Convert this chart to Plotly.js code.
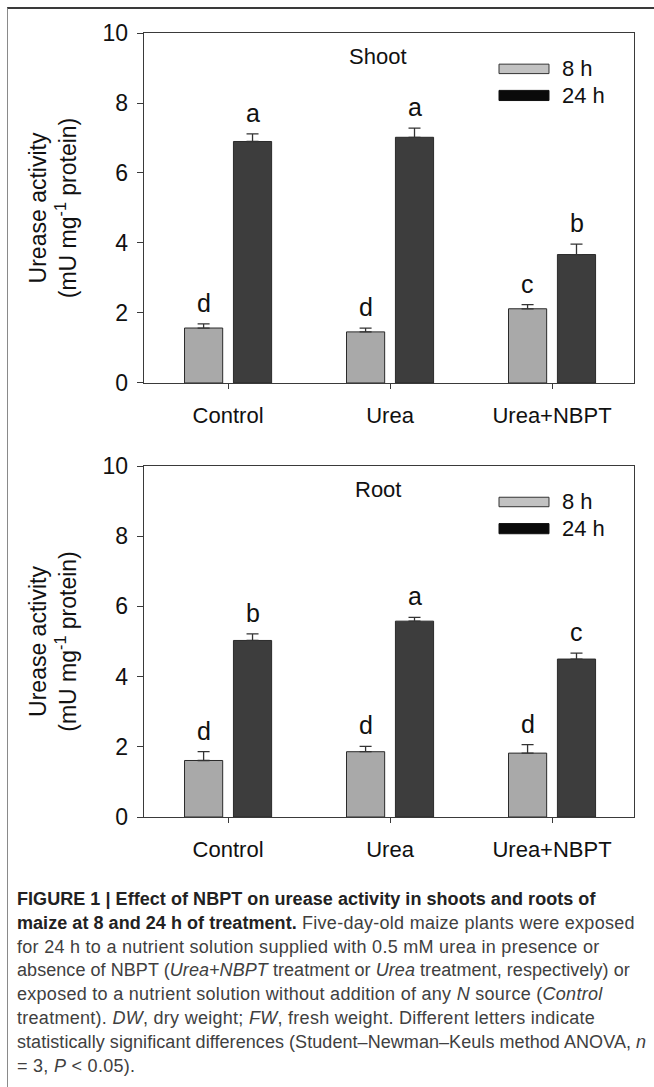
<!DOCTYPE html>
<html>
<head>
<meta charset="utf-8">
<script src="https://cdn.plot.ly/plotly-3.0.1.min.js"></script>
<style>
  html, body { margin: 0; padding: 0; background: #fff; }
  #wrap { position: relative; width: 654px; height: 1087px; overflow: hidden; background: #fff; }
  #chart { position: absolute; left: 0; top: 0; width: 654px; height: 880px; z-index: 1; }
  #frame { position: absolute; left: 7px; top: 7px; width: 660px; height: 1100px; z-index: 2;
           pointer-events: none; border-left: 1.5px solid #8a8a8a; border-top: 2px solid #3a3a3a; }
  #caption { position: absolute; left: 17px; top: 888px; width: 635px; z-index: 3;
             font-family: "Liberation Sans", Arial, sans-serif; font-size: 18px; letter-spacing: 0.28px;
             line-height: 23.8px; color: #404040; white-space: nowrap; }
  #caption b { color: #222; letter-spacing: 0.05px; }
  #caption .tight { letter-spacing: 0.06px; }
</style>
</head>
<body>
<div id="wrap">
  <div id="chart"></div>
  <div id="frame"></div>
  <div id="caption">
    <div><b>FIGURE 1 | Effect of NBPT on urease activity in shoots and roots of</b></div>
    <div><b>maize at 8 and 24 h of treatment.</b> Five-day-old maize plants were exposed</div>
    <div>for 24 h to a nutrient solution supplied with 0.5 mM urea in presence or</div>
    <div class="tight">absence of NBPT (<i>Urea+NBPT</i> treatment or <i>Urea</i> treatment, respectively) or</div>
    <div>exposed to a nutrient solution without addition of any <i>N</i> source (<i>Control</i></div>
    <div>treatment). <i>DW</i>, dry weight; <i>FW</i>, fresh weight. Different letters indicate</div>
    <div class="tight">statistically significant differences (Student–Newman–Keuls method ANOVA, <i>n</i></div>
    <div>= 3, <i>P</i> &lt; 0.05).</div>
  </div>
</div>
<script>
// ---- data ----
const categories = ['Control', 'Urea', 'Urea+NBPT'];
const seriesNames = ['8 h', '24 h'];
const yTicks = [0, 2, 4, 6, 8, 10];

const shoot8 = [1.57, 1.46, 2.12];
const shoot8Err = [0.12, 0.11, 0.12];
const shoot24 = [6.90, 7.02, 3.67];
const shoot24Err = [0.22, 0.26, 0.30];
const shoot8Letters = ['d', 'd', 'c'];
const shoot24Letters = ['a', 'a', 'b'];

const root8 = [1.61, 1.86, 1.82];
const root8Err = [0.25, 0.15, 0.24];
const root24 = [5.03, 5.58, 4.50];
const root24Err = [0.19, 0.11, 0.17];
const root8Letters = ['d', 'd', 'd'];
const root24Letters = ['b', 'a', 'c'];

const panelTitles = ['Shoot', 'Root'];

// ---- style ----
const FONT = '"Liberation Sans", Arial, Helvetica, sans-serif';
const fill8 = '#a9a9a9', fill24 = '#3d3d3d';
const legend8 = '#c2c2c2', legend24 = '#0a0a0a';
const lineCol = '#3a3a3a';

function barTrace(vals, errs, name, color, xa, ya) {
  return {
    type: 'bar', x: categories, y: vals, name: name, xaxis: xa, yaxis: ya,
    marker: { color: color, line: { color: '#2a2a2a', width: 1 } },
    error_y: { type: 'data', symmetric: false, array: errs, arrayminus: errs.map(() => 0),
               color: '#333', thickness: 1.3, width: 6 },
    showlegend: false, hoverinfo: 'skip'
  };
}

const data = [
  barTrace(shoot8, shoot8Err, seriesNames[0], fill8, 'x', 'y'),
  barTrace(shoot24, shoot24Err, seriesNames[1], fill24, 'x', 'y'),
  barTrace(root8, root8Err, seriesNames[0], fill8, 'x2', 'y2'),
  barTrace(root24, root24Err, seriesNames[1], fill24, 'x2', 'y2')
];

const annotations = [];
const shapes = [];
function letters(vals, errs, labs, shift, xr, yr) {
  vals.forEach((v, i) => {
    annotations.push({
      x: categories[i], y: v + errs[i], xref: xr, yref: yr, xshift: shift, yshift: 5,
      yanchor: 'bottom', xanchor: 'center', showarrow: false, text: labs[i],
      font: { family: FONT, size: 25, color: '#111' }
    });
  });
}
letters(shoot8, shoot8Err, shoot8Letters, -24.5, 'x', 'y');
letters(shoot24, shoot24Err, shoot24Letters, 24.5, 'x', 'y');
letters(root8, root8Err, root8Letters, -24.5, 'x2', 'y2');
letters(root24, root24Err, root24Letters, 24.5, 'x2', 'y2');

[['x', 'y'], ['x2', 'y2']].forEach(([xa, ya], k) => {
  const xr = xa + ' domain', yr = ya + ' domain';
  annotations.push({
    x: 0.478, y: 0.932, xref: xr, yref: yr, xanchor: 'center', yanchor: 'middle',
    showarrow: false, text: panelTitles[k], font: { family: FONT, size: 22, color: '#111' }
  });
  // legend swatches
  shapes.push({ type: 'rect', xref: xr, yref: yr, x0: 0.7245, x1: 0.8265, y0: 0.884, y1: 0.911,
                fillcolor: legend8, line: { color: '#333', width: 1 } });
  shapes.push({ type: 'rect', xref: xr, yref: yr, x0: 0.7245, x1: 0.8265, y0: 0.807, y1: 0.836,
                fillcolor: legend24, line: { color: '#111', width: 1 } });
  annotations.push({ x: 0.849, y: 0.898, xref: xr, yref: yr, xanchor: 'left', yanchor: 'middle',
                     showarrow: false, text: seriesNames[0], font: { family: FONT, size: 22, color: '#111' } });
  annotations.push({ x: 0.849, y: 0.821, xref: xr, yref: yr, xanchor: 'left', yanchor: 'middle',
                     showarrow: false, text: seriesNames[1], font: { family: FONT, size: 22, color: '#111' } });
});

function xAxis(anchor) {
  return {
    anchor: anchor, type: 'category', range: [-0.519, 2.506], showgrid: false, zeroline: false,
    showline: true, mirror: true, linecolor: lineCol, linewidth: 1.3,
    ticks: 'outside', ticklen: 5, tickwidth: 1, tickcolor: lineCol,
    ticklabelstandoff: 7, tickfont: { family: FONT, size: 22, color: '#111' }
  };
}
function yAxis(anchor, domain) {
  return {
    anchor: anchor, domain: domain, range: [0, 10], tickvals: yTicks, ticktext: yTicks.map(String),
    showgrid: false, zeroline: false,
    showline: true, mirror: true, linecolor: lineCol, linewidth: 1.3,
    ticks: 'outside', ticklen: 6, tickwidth: 1, tickcolor: lineCol,
    ticklabelstandoff: 4, tickfont: { family: FONT, size: 23, color: '#111' },
    title: { text: 'Urease activity<br>(mU mg<sup>-1</sup> protein)', standoff: 19,
             font: { family: FONT, size: 23, color: '#111' } }
  };
}

const layout = {
  width: 654, height: 880,
  margin: { l: 144, r: 20, t: 33, b: 63 },
  paper_bgcolor: 'rgba(0,0,0,0)', plot_bgcolor: 'rgba(0,0,0,0)',
  font: { family: FONT, color: '#111' },
  barmode: 'group', bargap: 0.396, bargroupgap: 0.22,
  xaxis: xAxis('y'), yaxis: yAxis('x', [0.5536, 1]),
  xaxis2: xAxis('y2'), yaxis2: yAxis('x2', [0, 0.4477]),
  annotations: annotations, shapes: shapes
};

Plotly.newPlot('chart', data, layout, { staticPlot: true, displayModeBar: false });
</script>
</body>
</html>
